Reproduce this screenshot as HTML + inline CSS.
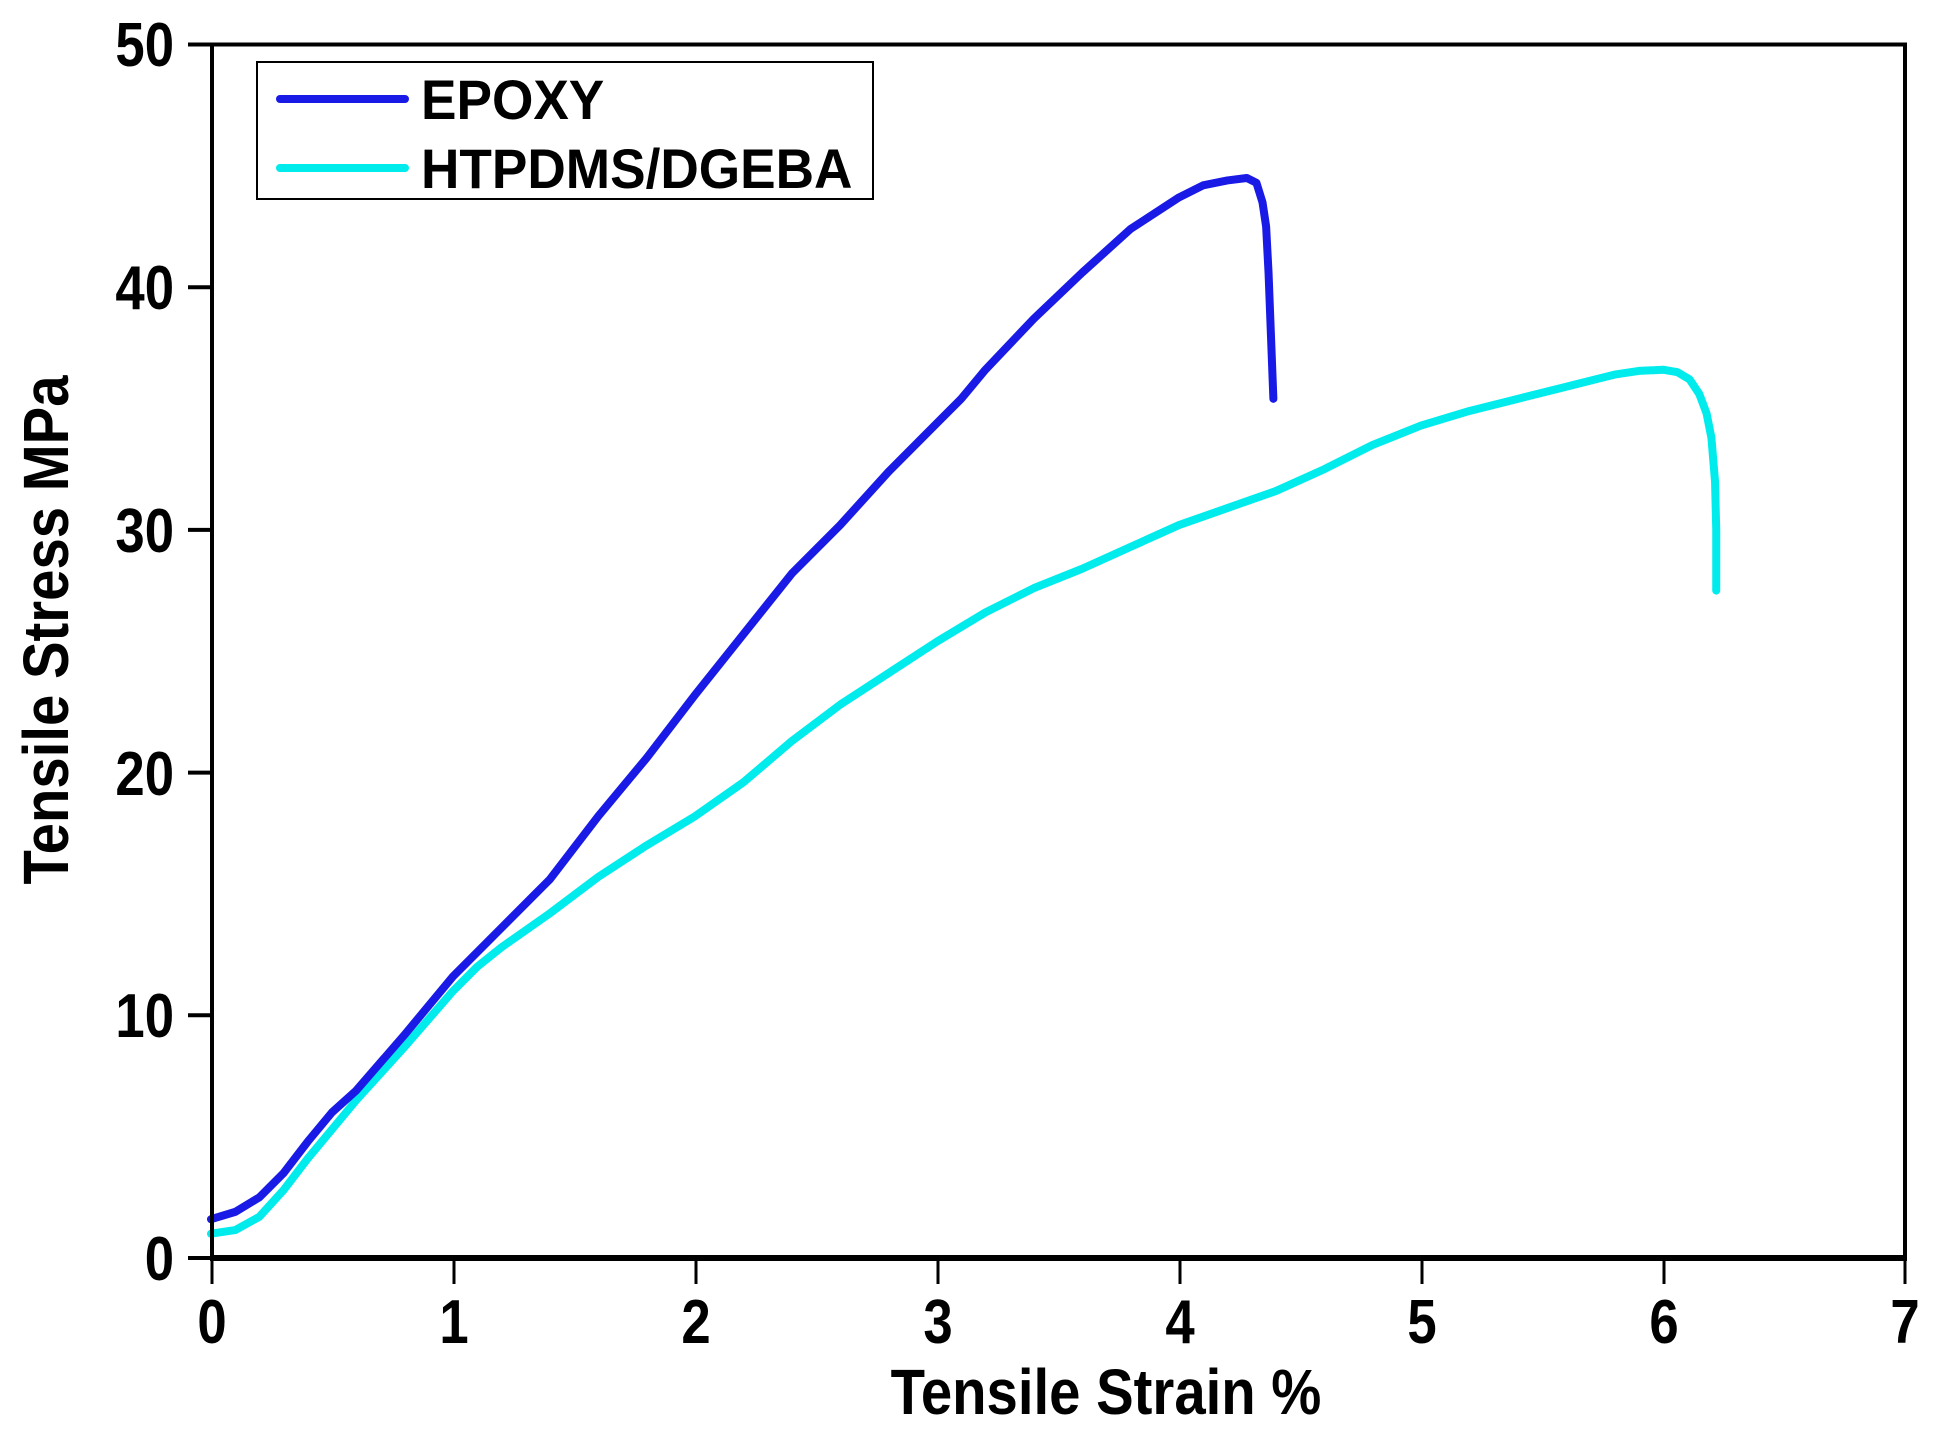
<!DOCTYPE html>
<html><head><meta charset="utf-8"><style>
html,body{margin:0;padding:0;background:#fff;}
svg text{font-family:"Liberation Sans",Arial,sans-serif;font-weight:bold;fill:#000;}
</style></head><body>
<svg width="1938" height="1445" viewBox="0 0 1938 1445" xmlns="http://www.w3.org/2000/svg">
<rect width="1938" height="1445" fill="#fff"/>
<g transform="translate(211,1258) scale(242,-24.27)" fill="none" stroke-linejoin="round" stroke-linecap="round">
<polyline vector-effect="non-scaling-stroke" stroke="#00ecec" stroke-width="8" points="0,1.0 0.1,1.15 0.2,1.7 0.3,2.8 0.4,4.1 0.5,5.3 0.6,6.5 0.8,8.7 1,11.0 1.1,12.0 1.2,12.8 1.4,14.2 1.6,15.7 1.8,17.0 2,18.2 2.2,19.6 2.4,21.3 2.6,22.8 2.8,24.1 3,25.4 3.2,26.6 3.4,27.6 3.6,28.4 3.8,29.3 4,30.2 4.2,30.9 4.4,31.6 4.6,32.5 4.8,33.5 5,34.3 5.2,34.9 5.4,35.4 5.6,35.9 5.8,36.4 5.9,36.55 6,36.6 6.06,36.5 6.11,36.2 6.15,35.6 6.18,34.8 6.2,33.8 6.215,32 6.22,30 6.22,27.5"/>
<polyline vector-effect="non-scaling-stroke" stroke="#1a1ae6" stroke-width="8" points="0,1.6 0.1,1.9 0.2,2.5 0.3,3.5 0.4,4.8 0.5,6.0 0.6,6.9 0.8,9.2 1,11.6 1.2,13.6 1.4,15.6 1.6,18.2 1.8,20.6 2,23.2 2.2,25.7 2.4,28.2 2.6,30.2 2.8,32.4 3,34.4 3.1,35.4 3.2,36.6 3.4,38.7 3.6,40.6 3.8,42.4 4,43.7 4.1,44.2 4.2,44.4 4.28,44.5 4.32,44.3 4.345,43.5 4.36,42.5 4.37,40.6 4.38,38 4.39,35.4"/>
</g>
<rect x="212" y="44.5" width="1693" height="1213.5" fill="none" stroke="#000" stroke-width="4"/>
<line x1="210" y1="1258" x2="1907" y2="1258" stroke="#000" stroke-width="6"/>
<g stroke="#000" stroke-width="4">
<line x1="188" y1="1258" x2="212" y2="1258"/>
<line x1="188" y1="1015.3" x2="212" y2="1015.3"/>
<line x1="188" y1="772.6" x2="212" y2="772.6"/>
<line x1="188" y1="529.9" x2="212" y2="529.9"/>
<line x1="188" y1="287.2" x2="212" y2="287.2"/>
<line x1="188" y1="44.5" x2="212" y2="44.5"/>
</g>
<g stroke="#000" stroke-width="3">
<line x1="212" y1="1258" x2="212" y2="1284"/>
<line x1="454" y1="1258" x2="454" y2="1284"/>
<line x1="696" y1="1258" x2="696" y2="1284"/>
<line x1="938" y1="1258" x2="938" y2="1284"/>
<line x1="1180" y1="1258" x2="1180" y2="1284"/>
<line x1="1422" y1="1258" x2="1422" y2="1284"/>
<line x1="1664" y1="1258" x2="1664" y2="1284"/>
<line x1="1905" y1="1258" x2="1905" y2="1284"/>
</g>
<g font-size="62" text-anchor="end">
<text transform="translate(174,1280) scale(0.85,1)">0</text>
<text transform="translate(174,1037) scale(0.85,1)">10</text>
<text transform="translate(174,795) scale(0.85,1)">20</text>
<text transform="translate(174,552) scale(0.85,1)">30</text>
<text transform="translate(174,309) scale(0.85,1)">40</text>
<text transform="translate(174,66) scale(0.85,1)">50</text>
</g>
<g font-size="62" text-anchor="middle">
<text transform="translate(212,1343) scale(0.85,1)">0</text>
<text transform="translate(454,1343) scale(0.85,1)">1</text>
<text transform="translate(696,1343) scale(0.85,1)">2</text>
<text transform="translate(938,1343) scale(0.85,1)">3</text>
<text transform="translate(1180,1343) scale(0.85,1)">4</text>
<text transform="translate(1422,1343) scale(0.85,1)">5</text>
<text transform="translate(1664,1343) scale(0.85,1)">6</text>
<text transform="translate(1905,1343) scale(0.85,1)">7</text>
</g>
<text transform="translate(1106,1414) scale(0.88,1)" font-size="64" text-anchor="middle">Tensile Strain %</text>
<text transform="translate(68,630) rotate(-90) scale(0.88,1)" font-size="64" text-anchor="middle">Tensile Stress MPa</text>
<rect x="257" y="62" width="616" height="137" fill="#fff" stroke="#000" stroke-width="2"/>
<line x1="280" y1="99" x2="405" y2="99" stroke="#1a1ae6" stroke-width="8" stroke-linecap="round"/>
<line x1="280" y1="168" x2="405" y2="168" stroke="#00ecec" stroke-width="8" stroke-linecap="round"/>
<text transform="translate(421,119) scale(0.95,1)" font-size="56">EPOXY</text>
<text transform="translate(421,188) scale(0.95,1)" font-size="56">HTPDMS/DGEBA</text>
</svg>
</body></html>
